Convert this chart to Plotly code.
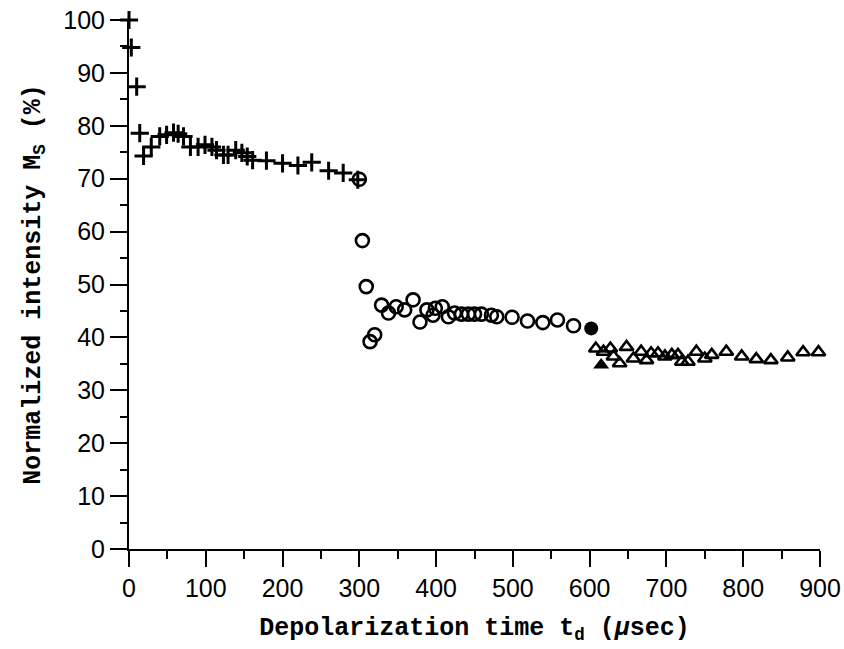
import plotly.graph_objects as go

# Series 1: plus markers
plus_t = [0, 3, 10, 14, 19, 29, 40, 49, 58, 64, 71, 80, 90, 99, 108, 114, 123, 129, 139, 147, 154, 161, 179, 200, 220, 238, 260, 279, 298]
plus_m = [100, 94.8, 87.4, 78.6, 74.3, 76.0, 78.0, 78.3, 78.7, 78.5, 78.0, 76.0, 76.0, 76.4, 76.0, 75.4, 74.5, 74.5, 75.4, 74.9, 74.2, 73.5, 73.4, 72.9, 72.5, 73.1, 71.5, 71.1, 69.8]

# Series 2: open circles
circ_t = [300, 304, 309, 314, 320, 329, 338, 348, 359, 370, 379, 388, 396, 399, 408, 416, 424, 433, 442, 450, 459, 472, 479, 499, 519, 539, 558, 579]
circ_m = [69.9, 58.3, 49.6, 39.2, 40.5, 46.1, 44.6, 45.8, 45.2, 47.1, 42.9, 45.2, 44.2, 45.5, 45.8, 43.9, 44.6, 44.4, 44.4, 44.4, 44.4, 44.2, 43.9, 43.8, 43.1, 42.8, 43.3, 42.2]

# Transition points: filled circle and filled triangle
fcirc_t = [602]
fcirc_m = [41.7]
ftri_t = [615]
ftri_m = [34.8]

# Series 3: open triangles
tri_t = [608, 618, 627, 631, 639, 648, 657, 667, 674, 680, 689, 698, 707, 715, 720, 728, 739, 750, 759, 778, 798, 817, 836, 858, 878, 898]
tri_m = [37.9, 37.3, 37.9, 36.4, 35.1, 38.2, 36.0, 37.3, 35.7, 37.0, 37.0, 36.4, 36.7, 36.7, 35.4, 35.4, 37.3, 36.0, 36.7, 37.3, 36.4, 35.9, 35.7, 36.2, 37.2, 37.2]

x_ticks = [0, 100, 200, 300, 400, 500, 600, 700, 800, 900]
y_ticks = [0, 10, 20, 30, 40, 50, 60, 70, 80, 90, 100]

fig = go.Figure()
fig.add_trace(go.Scatter(x=plus_t, y=plus_m, mode="markers",
                         marker=dict(symbol="cross-thin", size=13, line=dict(color="black", width=3)),
                         cliponaxis=False, showlegend=False))
fig.add_trace(go.Scatter(x=circ_t, y=circ_m, mode="markers",
                         marker=dict(symbol="circle-open", size=13, color="black", line=dict(color="black", width=2.6)),
                         cliponaxis=False, showlegend=False))
fig.add_trace(go.Scatter(x=tri_t, y=tri_m, mode="markers",
                         marker=dict(symbol="triangle-up-open", size=12, color="black", line=dict(color="black", width=2.6)),
                         cliponaxis=False, showlegend=False))
fig.add_trace(go.Scatter(x=fcirc_t, y=fcirc_m, mode="markers",
                         marker=dict(symbol="circle", size=14, color="black"),
                         cliponaxis=False, showlegend=False))
fig.add_trace(go.Scatter(x=ftri_t, y=ftri_m, mode="markers",
                         marker=dict(symbol="triangle-up", size=14, color="black"),
                         cliponaxis=False, showlegend=False))

title_font = dict(family="Liberation Mono, DejaVu Sans Mono, monospace", size=25, color="black")

fig.update_layout(
    width=844, height=649,
    margin=dict(l=129, r=24, t=20, b=100),
    paper_bgcolor="white", plot_bgcolor="white",
    xaxis=dict(range=[0, 900], tickvals=x_ticks, ticktext=[str(v) for v in x_ticks],
               automargin=False,
               showgrid=False, zeroline=False, showline=True, linecolor="black", linewidth=2,
               ticks="outside", ticklen=16, tickwidth=2, tickcolor="black",
               minor=dict(dtick=50, ticks="outside", ticklen=8, tickwidth=2, tickcolor="black", showgrid=False),
               tickfont=dict(family="Liberation Sans, Arial, sans-serif", size=25, color="black"),
               title=dict(text="<b>Depolarization time t<sub>d</sub> (<i>µ</i>sec)</b>", font=title_font, standoff=16)),
    yaxis=dict(range=[0, 100], tickvals=y_ticks, ticktext=[str(v) for v in y_ticks],
               automargin=False,
               showgrid=False, zeroline=False, showline=True, linecolor="black", linewidth=2,
               ticks="outside", ticklen=17, tickwidth=2, tickcolor="black",
               minor=dict(dtick=5, ticks="outside", ticklen=7, tickwidth=2, tickcolor="black", showgrid=False),
               tickfont=dict(family="Liberation Sans, Arial, sans-serif", size=25, color="black"),
               title=dict(text="<b>Normalized intensity M<sub>S</sub> (%)</b>", font=title_font, standoff=16)),
)

fig.write_html("out.html", config={"displayModeBar": False},
               post_script="document.body.style.margin='0';document.body.style.overflow='hidden';")
